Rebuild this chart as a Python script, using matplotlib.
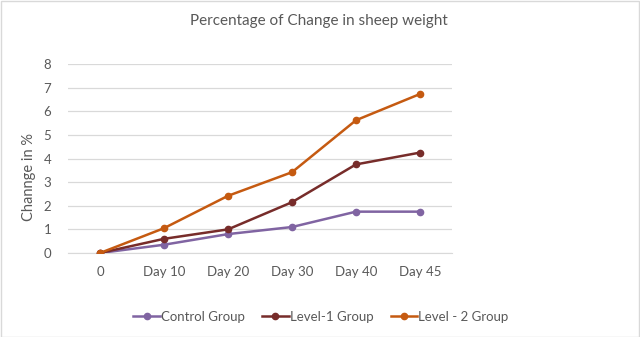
import matplotlib.pyplot as plt
from matplotlib.patches import Rectangle

categories = ["0", "Day 10", "Day 20", "Day 30", "Day 40", "Day 45"]
control = [0, 0.35, 0.8, 1.1, 1.75, 1.75]
level1 = [0, 0.6, 1.0, 2.15, 3.75, 4.25]
level2 = [0, 1.05, 2.42, 3.42, 5.62, 6.73]

text_color = "#595959"
plt.rcParams['font.family'] = ['Lato', 'DejaVu Sans']

fig = plt.figure(figsize=(6.4, 3.37), dpi=100)
ax = fig.add_axes([68 / 640, 1 - 253 / 337, 384 / 640, 189 / 337])

x = list(range(len(categories)))
series = [
    ("Control Group", control, "#8064A2"),
    ("Level-1 Group", level1, "#772C2A"),
    ("Level - 2 Group", level2, "#C55A11"),
]
for name, vals, color in series:
    ax.plot(x, vals, color=color, lw=1.8, marker="o", ms=4.5, label=name, zorder=3)

ax.set_xlim(-0.5, len(categories) - 0.5)
ax.set_ylim(0, 8)
ax.set_yticks(range(0, 9))
ax.set_xticks(x)
ax.set_xticklabels(categories)
ax.tick_params(axis="both", length=0, labelsize=9.5, colors=text_color)
ax.tick_params(axis="y", pad=12)
ax.tick_params(axis="x", pad=9)
ax.grid(axis="y", color="#D9D9D9", lw=0.9)
ax.set_axisbelow(True)
for s in ["top", "right", "left"]:
    ax.spines[s].set_visible(False)
ax.spines["bottom"].set_color("#D9D9D9")

fig.text(319 / 640, 1 - 21 / 337, "Percentage of Change in sheep weight",
         ha="center", va="center", fontsize=11, color=text_color)
fig.text(29 / 640, 1 - 177 / 337, "Channge in %", rotation=90,
         ha="center", va="center", fontsize=10.5, color=text_color)

fig.legend(loc="center", bbox_to_anchor=(321 / 640, 1 - 317 / 337), ncol=3,
           frameon=False, fontsize=9.5, labelcolor=text_color,
           handlelength=2.0, handletextpad=0.1, columnspacing=1.3)

fig.patches.append(Rectangle((0.001, 0.001), 0.998, 0.996, transform=fig.transFigure,
                             fill=False, edgecolor="#D9D9D9", lw=1))

fig.savefig("out.png", dpi=100)
